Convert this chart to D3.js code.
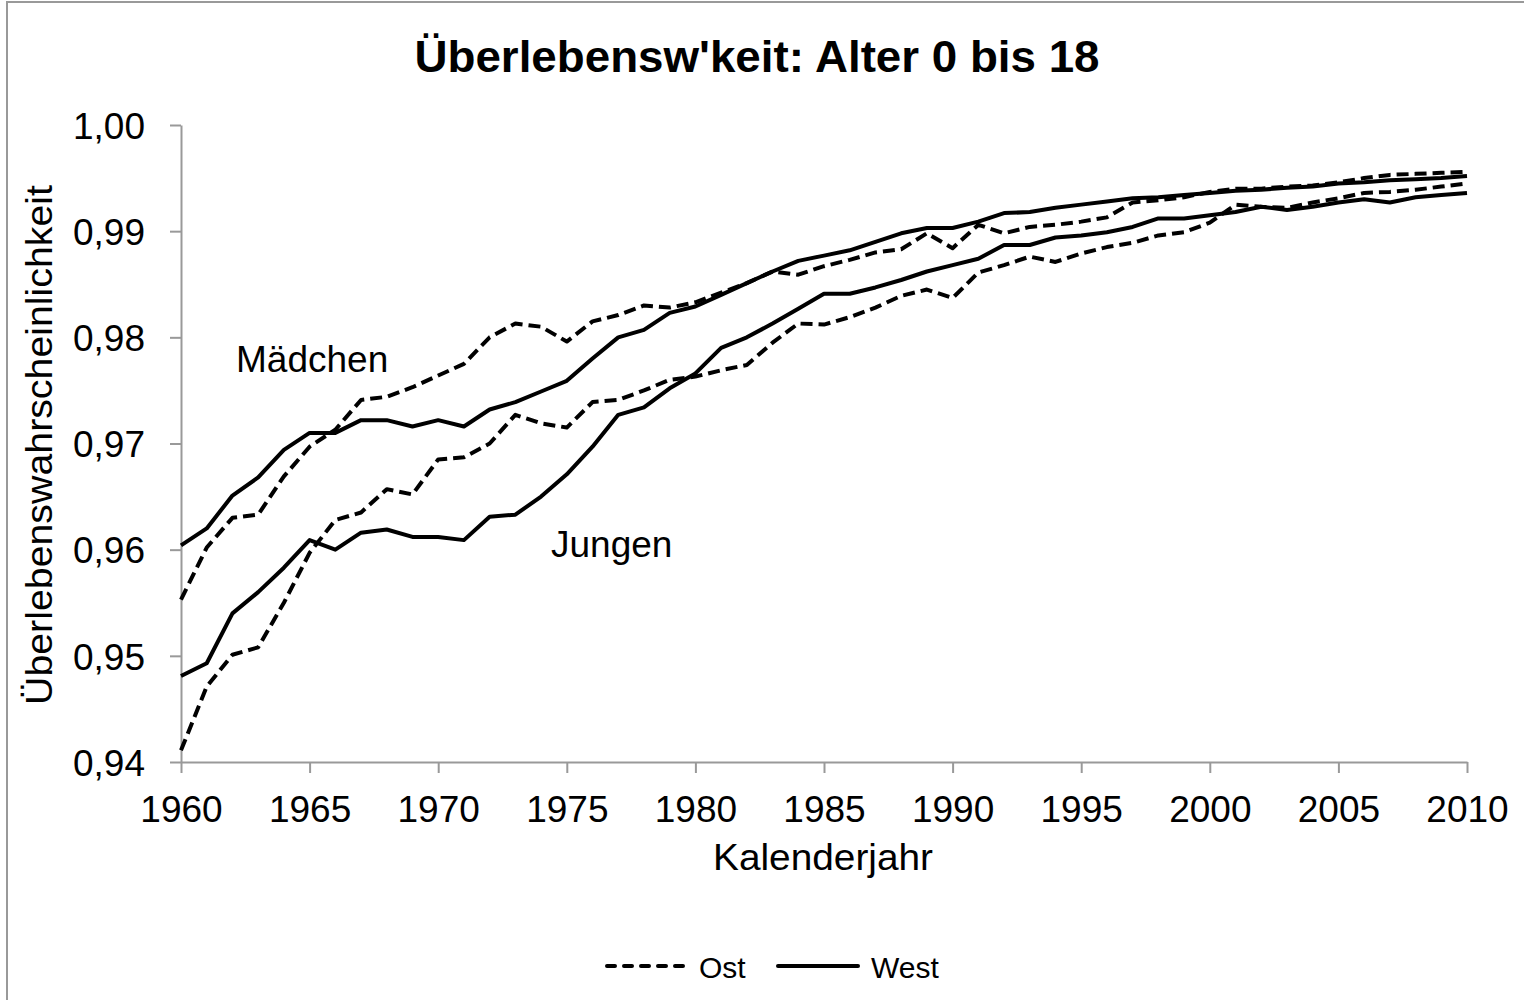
<!DOCTYPE html>
<html>
<head>
<meta charset="utf-8">
<script src="https://cdn.jsdelivr.net/npm/d3@7"></script>
<style>
	body { margin: 0; background: #fff; }
	svg { display: block; }
	text { font-family: "Liberation Sans", Arial, sans-serif; fill: #000; }
</style>
</head>
<body>
<svg id="chart" width="1524" height="1000"></svg>
<script>
var years = d3.range(1960, 2011)

// Mädchen
var ostMaedchen = [
	0.9553, 0.9602, 0.9630, 0.9633, 0.9669, 0.9697, 0.9713, 0.9741, 0.9744, 0.9753,
	0.9764, 0.9775, 0.9800, 0.9813, 0.9810, 0.9796, 0.9815, 0.9821, 0.9830, 0.9828,
	0.9833, 0.9842, 0.9851, 0.9862, 0.9859, 0.9867, 0.9873, 0.9880, 0.9883, 0.9898,
	0.9884, 0.9906, 0.9898, 0.9904, 0.9906, 0.9909, 0.9913, 0.9927, 0.9929, 0.9932,
	0.9937, 0.9940, 0.9940, 0.9942, 0.9943, 0.9946, 0.9950, 0.9953, 0.9954, 0.9955,
	0.9956]
var westMaedchen = [
	0.9604, 0.9620, 0.9651, 0.9668, 0.9694, 0.9710, 0.9710, 0.9722, 0.9722, 0.9716,
	0.9722, 0.9716, 0.9732, 0.9739, 0.9749, 0.9759, 0.9780, 0.9800, 0.9807, 0.9823,
	0.9829, 0.9840, 0.9851, 0.9862, 0.9872, 0.9877, 0.9882, 0.9890, 0.9898, 0.9903,
	0.9903, 0.9909, 0.9917, 0.9918, 0.9922, 0.9925, 0.9928, 0.9931, 0.9932, 0.9934,
	0.9936, 0.9938, 0.9939, 0.9941, 0.9942, 0.9945, 0.9946, 0.9948, 0.9949, 0.9950,
	0.9952]

// Jungen
var ostJungen = [
	0.9411, 0.9471, 0.9501, 0.9508, 0.9550, 0.9597, 0.9628, 0.9635, 0.9657, 0.9652,
	0.9685, 0.9687, 0.9700, 0.9727, 0.9719, 0.9715, 0.9739, 0.9741, 0.9750, 0.9760,
	0.9763, 0.9769, 0.9774, 0.9795, 0.9813, 0.9812, 0.9819, 0.9828, 0.9839, 0.9845,
	0.9837, 0.9861, 0.9868, 0.9876, 0.9871, 0.9879, 0.9885, 0.9889, 0.9896, 0.9899,
	0.9908, 0.9925, 0.9923, 0.9922, 0.9927, 0.9931, 0.9936, 0.9937, 0.9939, 0.9942,
	0.9945]
var westJungen = [
	0.9481, 0.9493, 0.9540, 0.9560, 0.9583, 0.9609, 0.9600, 0.9616, 0.9619, 0.9612,
	0.9612, 0.9609, 0.9631, 0.9633, 0.9650, 0.9671, 0.9697, 0.9727, 0.9734, 0.9752,
	0.9766, 0.9790, 0.9800, 0.9813, 0.9827, 0.9841, 0.9841, 0.9847, 0.9854, 0.9862,
	0.9868, 0.9874, 0.9887, 0.9887, 0.9894, 0.9896, 0.9899, 0.9904, 0.9912, 0.9912,
	0.9915, 0.9918, 0.9923, 0.9920, 0.9923, 0.9927, 0.9930, 0.9927, 0.9932, 0.9934,
	0.9936]

var xTicks = d3.range(1960, 2011, 5)
var yTicks = [0.94, 0.95, 0.96, 0.97, 0.98, 0.99, 1.00]

var seriesNames = ["Ost", "West"]
var series = [
	{name: "Ost", values: ostMaedchen},
	{name: "West", values: westMaedchen},
	{name: "Ost", values: ostJungen},
	{name: "West", values: westJungen}
]

var title = "Überlebensw'keit: Alter 0 bis 18"
var xTitle = "Kalenderjahr"
var yTitle = "Überlebenswahrscheinlichkeit"

var dashes = {Ost: "12,6", West: null}
var axisColor = "#999"

var svg = d3.select("#chart")
var de = d3.formatLocale({decimal: ",", thousands: ".", grouping: [3], currency: ["", " €"]})

var x = d3.scaleLinear().domain([1960, 2010]).range([181, 1467])
var y = d3.scaleLinear().domain([0.94, 1.00]).range([762, 125])

// outer frame
svg.append("rect")
	.attr("x", 7).attr("y", 2)
	.attr("width", 1540).attr("height", 1020)
	.attr("fill", "none")
	.attr("stroke", axisColor)
	.attr("stroke-width", 2)

svg.append("text")
	.attr("x", 757).attr("y", 72)
	.attr("text-anchor", "middle")
	.attr("font-size", 44)
	.attr("font-weight", "bold")
	.attr("textLength", 685)
	.attr("lengthAdjust", "spacingAndGlyphs")
	.text(title)

var xAxis = svg.append("g")
	.attr("transform", "translate(0,762)")
	.call(d3.axisBottom(x).tickValues(xTicks).tickFormat(d3.format("d")).tickSize(11).tickSizeOuter(0))

var yAxis = svg.append("g")
	.attr("transform", "translate(181,0)")
	.call(d3.axisLeft(y).tickValues(yTicks).tickFormat(de.format(".2f")).tickSize(11).tickSizeOuter(0))

;[xAxis, yAxis].forEach(function(a) {
	a.select(".domain").attr("stroke", axisColor).attr("stroke-width", 2)
	a.selectAll(".tick line").attr("stroke", axisColor).attr("stroke-width", 2)
	a.selectAll(".tick text")
		.attr("font-family", "Liberation Sans, Arial, sans-serif")
		.attr("font-size", 37)
		.attr("fill", "#000")
})
xAxis.selectAll(".tick text").attr("y", 0).attr("dy", 0).attr("transform", "translate(0,60)")
yAxis.selectAll(".tick text").attr("x", -36).attr("dy", "0.36em")

svg.append("text")
	.attr("x", 823).attr("y", 870)
	.attr("text-anchor", "middle")
	.attr("font-size", 37)
	.attr("textLength", 220)
	.attr("lengthAdjust", "spacingAndGlyphs")
	.text(xTitle)

svg.append("text")
	.attr("transform", "translate(52,445) rotate(-90)")
	.attr("text-anchor", "middle")
	.attr("font-size", 37)
	.attr("textLength", 520)
	.attr("lengthAdjust", "spacingAndGlyphs")
	.text(yTitle)

var line = d3.line()
	.x(function(d, i) { return x(years[i]) })
	.y(function(d) { return y(d) })

svg.append("g").selectAll("path")
	.data(series)
	.join("path")
	.attr("d", function(s) { return line(s.values) })
	.attr("fill", "none")
	.attr("stroke", "#000")
	.attr("stroke-width", 4)
	.attr("stroke-linejoin", "round")
	.attr("stroke-dasharray", function(s) { return dashes[s.name] })

svg.append("text").attr("x", 236).attr("y", 372).attr("font-size", 37).text("Mädchen")
svg.append("text").attr("x", 551).attr("y", 557).attr("font-size", 37).text("Jungen")

// legend
var legend = svg.append("g").selectAll("g")
	.data(seriesNames)
	.join("g")
	.attr("transform", function(d, i) { return "translate(" + (607 + i * 171) + ",0)" })

legend.append("line")
	.attr("x1", 0).attr("x2", 80)
	.attr("y1", 966).attr("y2", 966)
	.attr("stroke", "#000")
	.attr("stroke-width", 4)
	.attr("stroke-linecap", "round")
	.attr("stroke-dasharray", function(d) { return d == "Ost" ? "8,9" : null })

legend.append("text")
	.attr("x", function(d) { return d == "Ost" ? 92 : 93 })
	.attr("y", 978)
	.attr("font-family", "Lato, 'Open Sans', sans-serif")
	.attr("font-size", 30)
	.text(function(d) { return d })
</script>
</body>
</html>
